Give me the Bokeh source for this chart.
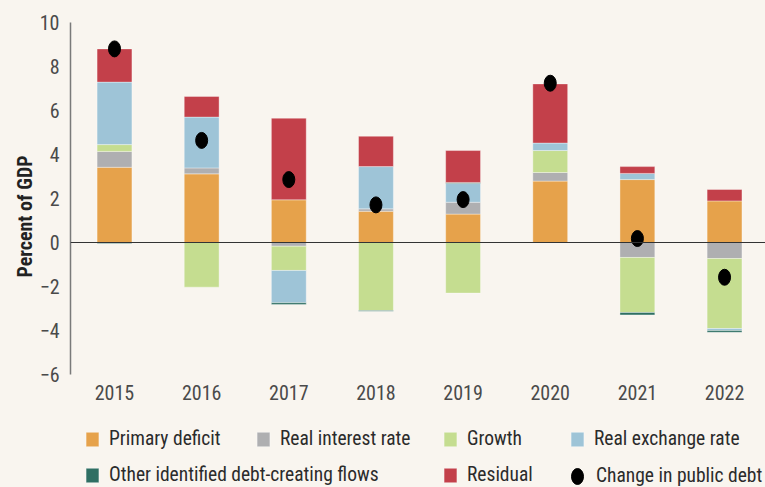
from bokeh.plotting import figure
from bokeh.layouts import column
from bokeh.models import (ColumnDataSource, Legend, LegendItem, FixedTicker, Range1d,
                          Span, Title)
from bokeh.embed import file_html
from bokeh.resources import INLINE

years = [2015, 2016, 2017, 2018, 2019, 2020, 2021, 2022]
primary_deficit = [3.42, 3.12, 1.94, 1.42, 1.29, 2.79, 2.86, 1.89]
real_interest_rate = [0.72, 0.27, -0.17, 0.11, 0.54, 0.39, -0.68, -0.73]
growth = [0.31, -2.03, -1.10, -3.09, -2.30, 1.00, -2.50, -3.18]
real_exchange_rate = [2.84, 2.31, -1.47, 1.92, 0.85, 0.34, 0.28, -0.09]
other_flows = [-0.05, 0.0, -0.08, -0.04, 0.05, 0.0, -0.11, -0.08]
residual = [1.51, 0.94, 3.71, 1.38, 1.45, 2.69, 0.31, 0.52]
change_in_debt = [8.80, 4.64, 2.86, 1.71, 1.95, 7.24, 0.18, -1.58]
y_ticks = [-6, -4, -2, 0, 2, 4, 6, 8, 10]

series = [
    ("Primary deficit", primary_deficit, "#E6A24B"),
    ("Real interest rate", real_interest_rate, "#AFAFB1"),
    ("Growth", growth, "#C5DD90"),
    ("Real exchange rate", real_exchange_rate, "#9EC4D7"),
    ("Other identified debt-creating flows", other_flows, "#2F6F63"),
    ("Residual", residual, "#C3404A"),
]

BG = "#F9F5EF"
FONT = "'Noto Sans Condensed', 'Roboto Condensed', Lato"

p = figure(width=765, height=408, output_backend="svg", toolbar_location=None,
           x_range=Range1d(2014.495, 2022.47), y_range=Range1d(-6, 10),
           min_border_left=70, min_border_right=0, min_border_top=22, min_border_bottom=34)
p.background_fill_color = BG
p.border_fill_color = BG
p.outline_line_color = None
p.grid.visible = False

# legend strip below the chart, sharing the x scale (frames are aligned in the column)
lg_fig = figure(width=765, height=79, output_backend="svg", toolbar_location=None,
                x_range=p.x_range, y_range=Range1d(1000, 1001),
                x_axis_type=None, y_axis_type=None,
                min_border_left=0, min_border_right=0, min_border_top=0, min_border_bottom=0)
lg_fig.background_fill_color = BG
lg_fig.border_fill_color = BG
lg_fig.outline_line_color = None
lg_fig.grid.visible = False

pos = [0.0] * len(years)
neg = [0.0] * len(years)
legend_renderers = {}
for name, vals, color in series:
    xs, bots, tops = [], [], []
    for i, v in enumerate(vals):
        if v == 0:
            continue
        if v > 0:
            b, t = pos[i], pos[i] + v
            pos[i] = t
        else:
            b, t = neg[i] + v, neg[i]
            neg[i] = b
        xs.append(years[i]); bots.append(b); tops.append(t)
    src = ColumnDataSource(dict(x=xs, bottom=bots, top=tops))
    kw = dict(x="x", bottom="bottom", top="top", width=0.4, source=src,
              fill_color=color, line_color="white", line_width=0.8, line_alpha=0.45)
    p.vbar(**kw)
    legend_renderers[name] = lg_fig.vbar(**kw)

zero = Span(location=0, dimension="width", line_color="#333333", line_width=1)
p.add_layout(zero)

dot_src = ColumnDataSource(dict(x=years, y=change_in_debt))
dot_kw = dict(x="x", y="y", width=12, height=16, width_units="screen", height_units="screen",
              fill_color="black", line_color="black", source=dot_src)
p.ellipse(**dot_kw)
legend_renderers["Change in public debt"] = lg_fig.ellipse(**dot_kw)

# axes
p.yaxis.ticker = FixedTicker(ticks=y_ticks)
p.yaxis.axis_line_color = "#7a7a7a"
p.yaxis.axis_line_width = 1.5
p.yaxis.major_tick_line_color = None
p.yaxis.minor_tick_line_color = None
p.yaxis.major_label_standoff = 5
p.yaxis.major_label_text_font = FONT
p.yaxis.major_label_text_font_size = "20px"
p.yaxis.major_label_text_color = "#4a4a4a"

p.xaxis.ticker = FixedTicker(ticks=years)
p.xaxis.axis_line_color = None
p.xaxis.major_tick_line_color = None
p.xaxis.minor_tick_line_color = None
p.xaxis.major_label_standoff = 4
p.xaxis.major_label_text_font = FONT
p.xaxis.major_label_text_font_size = "20px"
p.xaxis.major_label_text_color = "#4a4a4a"

ylab = Title(text="Percent of GDP", align="left", offset=97, standoff=0,
             text_font=FONT, text_font_size="20px", text_font_style="bold",
             text_color="#222222")
p.add_layout(ylab, "left")

legend_spots = [
    ("Primary deficit", 14, 37, 16, 18, 9),
    ("Real interest rate", 185, 37, 16, 18, 9),
    ("Growth", 372, 37, 16, 18, 9),
    ("Real exchange rate", 499, 37, 16, 18, 9),
    ("Other identified debt-creating flows", 14, 1, 16, 18, 9),
    ("Residual", 372, 1, 16, 18, 9),
    ("Change in public debt", 497, 0, 20, 20, 9),
]
for name, lx, ly, gw, gh, st in legend_spots:
    lg = Legend(items=[LegendItem(label=name, renderers=[legend_renderers[name]])],
                location=(lx, ly), padding=0, margin=0, spacing=0,
                glyph_width=gw, glyph_height=gh, label_height=gh, label_standoff=st,
                label_text_font=FONT, label_text_font_size="19.5px",
                label_text_color="#2b2b2b",
                background_fill_alpha=0, border_line_alpha=0)
    lg_fig.add_layout(lg, "center")

layout = column(p, lg_fig, spacing=0, styles={"background-color": BG})
open("out.html", "w").write(file_html(layout, INLINE))
